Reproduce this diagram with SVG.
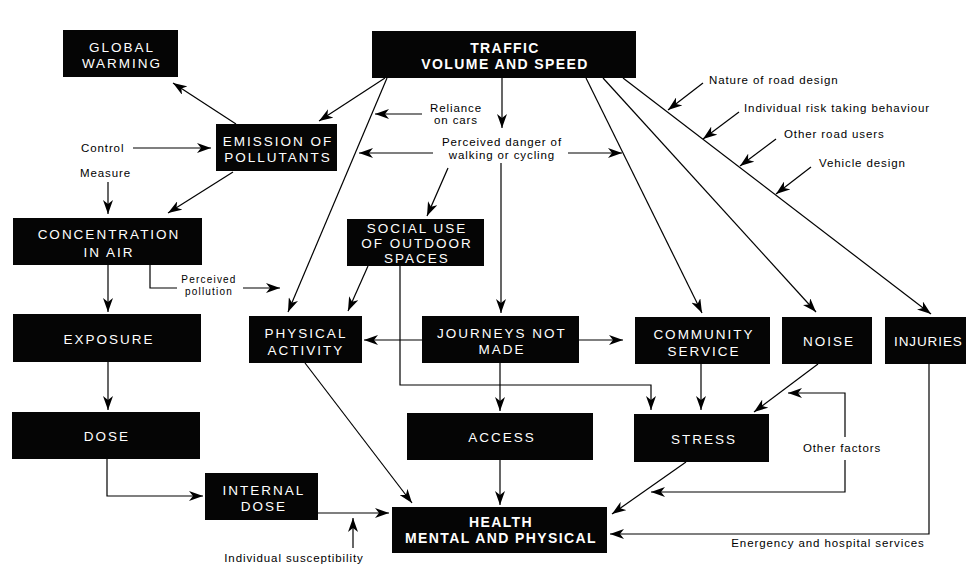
<svg xmlns="http://www.w3.org/2000/svg" width="966" height="567" viewBox="0 0 966 567">
<style>
.box{fill:#050505}
.bt{font-family:"Liberation Sans",Arial,sans-serif;font-size:13.5px;letter-spacing:2px;fill:#fff;text-anchor:middle}
.bb{font-weight:bold;font-size:14px;letter-spacing:1.4px}
.lb{font-family:"Liberation Sans",Arial,sans-serif;font-size:11.5px;letter-spacing:0.9px;fill:#000}
.sm{font-size:10px;letter-spacing:1.2px}
.mid{text-anchor:middle}
.ln{stroke:#000;stroke-width:1.2;fill:none}
.ar{marker-end:url(#ah)}
</style>
<defs>
<marker id="ah" viewBox="0 0 14 10" refX="14" refY="5" markerWidth="14" markerHeight="10" markerUnits="userSpaceOnUse" orient="auto">
<path d="M0,0 L14,5 L0,10 L4,5 z" fill="#000"/>
</marker>
</defs>
<rect width="966" height="567" fill="#fff"/>

<g id="connectors">
<path class="ln ar" d="M236,124 L173,83"/>
<path class="ln ar" d="M385,78 L319,121"/>
<path class="ln ar" d="M133,148 L211,148"/>
<path class="ln ar" d="M108,182 L108,214"/>
<path class="ln ar" d="M233,172 L168,213"/>
<path class="ln ar" d="M108,265 L108,312"/>
<path class="ln" d="M150,265 L150,288 L177,288"/>
<path class="ln ar" d="M243,288 L280,288"/>
<path class="ln ar" d="M108,362 L108,410"/>
<path class="ln ar" d="M107,459 L107,496 L203,496"/>
<path class="ln ar" d="M318,513 L389,513"/>
<path class="ln ar" d="M353,548 L353,518"/>
<path class="ln ar" d="M387,78 L288,312"/>
<path class="ln ar" d="M422,114 L375,114"/>
<path class="ln ar" d="M502,78 L502,128"/>
<path class="ln ar" d="M433,153 L359,153"/>
<path class="ln ar" d="M568,153 L622,153"/>
<path class="ln ar" d="M448,168 L427,216"/>
<path class="ln ar" d="M501,163 L501,313"/>
<path class="ln ar" d="M368,266 L348,311"/>
<path class="ln ar" d="M400,266 L400,385 L651,385 L651,410"/>
<path class="ln ar" d="M500,363 L500,411"/>
<path class="ln ar" d="M422,340 L364,340"/>
<path class="ln ar" d="M579,340 L623,340"/>
<path class="ln ar" d="M500,460 L500,505"/>
<path class="ln ar" d="M305,363 L412,503"/>
<path class="ln ar" d="M586,78 L702,313"/>
<path class="ln ar" d="M603,78 L816,312"/>
<path class="ln ar" d="M623,78 L931,314"/>
<path class="ln ar" d="M703,83 L668,110"/>
<path class="ln ar" d="M739,112 L703,139"/>
<path class="ln ar" d="M776,139 L740,166"/>
<path class="ln ar" d="M811,167 L776,194"/>
<path class="ln ar" d="M701,364 L701,410"/>
<path class="ln ar" d="M818,364 L754,412"/>
<path class="ln ar" d="M845,437 L845,393 L788,393"/>
<path class="ln ar" d="M845,460 L845,492 L651,492"/>
<path class="ln ar" d="M686,462 L612,514"/>
<path class="ln ar" d="M929,364 L929,534 L610,534"/>
</g>

<g id="labels">
<text class="lb" x="81" y="152">Control</text>
<text class="lb" x="80" y="177">Measure</text>
<text class="lb mid" x="456" y="112">Reliance</text>
<text class="lb mid" x="456" y="124">on cars</text>
<text class="lb mid" x="502" y="146">Perceived danger of</text>
<text class="lb mid" x="502" y="159">walking or cycling</text>
<text class="lb sm mid" x="209" y="283">Perceived</text>
<text class="lb sm mid" x="209" y="295">pollution</text>
<text class="lb" x="709" y="84">Nature of road design</text>
<text class="lb" x="744" y="112">Individual risk taking behaviour</text>
<text class="lb" x="784" y="138">Other road users</text>
<text class="lb" x="819" y="167">Vehicle design</text>
<text class="lb mid" x="842" y="452">Other factors</text>
<text class="lb mid" x="828" y="547">Energency and hospital services</text>
<text class="lb mid" x="294" y="562">Individual susceptibility</text>
</g>

<g id="global-warming"><rect class="box" x="63" y="30" width="115" height="47"/><text class="bt" x="122" y="52">GLOBAL</text><text class="bt" x="122" y="68">WARMING</text></g>
<g id="traffic"><rect class="box" x="372" y="31" width="264" height="47"/><text class="bt bb" x="505" y="53">TRAFFIC</text><text class="bt bb" x="505" y="69">VOLUME AND SPEED</text></g>
<g id="emission"><rect class="box" x="216" y="124" width="121" height="47"/><text class="bt" x="278" y="146">EMISSION OF</text><text class="bt" x="278" y="162">POLLUTANTS</text></g>
<g id="concentration"><rect class="box" x="13" y="218" width="189" height="47"/><text class="bt" x="109" y="239">CONCENTRATION</text><text class="bt" x="109" y="257">IN AIR</text></g>
<g id="exposure"><rect class="box" x="13" y="314" width="188" height="48"/><text class="bt" x="109" y="344">EXPOSURE</text></g>
<g id="dose"><rect class="box" x="12" y="412" width="188" height="47"/><text class="bt" x="107" y="441">DOSE</text></g>
<g id="internal-dose"><rect class="box" x="205" y="473" width="113" height="47"/><text class="bt" x="264" y="495">INTERNAL</text><text class="bt" x="264" y="511">DOSE</text></g>
<g id="physical-activity"><rect class="box" x="249" y="316" width="113" height="47"/><text class="bt" x="306" y="338">PHYSICAL</text><text class="bt" x="306" y="355">ACTIVITY</text></g>
<g id="social-use"><rect class="box" x="347" y="219" width="137" height="47"/><text class="bt" x="417" y="233">SOCIAL USE</text><text class="bt" x="417" y="248">OF OUTDOOR</text><text class="bt" x="417" y="263">SPACES</text></g>
<g id="journeys"><rect class="box" x="422" y="316" width="157" height="47"/><text class="bt" x="502" y="338">JOURNEYS NOT</text><text class="bt" x="502" y="354">MADE</text></g>
<g id="community"><rect class="box" x="635" y="317" width="135" height="47"/><text class="bt" x="704" y="339">COMMUNITY</text><text class="bt" x="704" y="356">SERVICE</text></g>
<g id="noise"><rect class="box" x="782" y="317" width="90" height="47"/><text class="bt" x="829" y="346">NOISE</text></g>
<g id="injuries"><rect class="box" x="885" y="317" width="95" height="47"/><text class="bt" x="894" y="346" style="text-anchor:start;letter-spacing:0.9px">INJURIES</text></g>
<g id="access"><rect class="box" x="407" y="413" width="186" height="47"/><text class="bt" x="502" y="442">ACCESS</text></g>
<g id="stress"><rect class="box" x="634" y="414" width="135" height="48"/><text class="bt" x="704" y="444">STRESS</text></g>
<g id="health"><rect class="box" x="392" y="507" width="215" height="46"/><text class="bt bb" x="501" y="527">HEALTH</text><text class="bt bb" x="501" y="543">MENTAL AND PHYSICAL</text></g>
</svg>
